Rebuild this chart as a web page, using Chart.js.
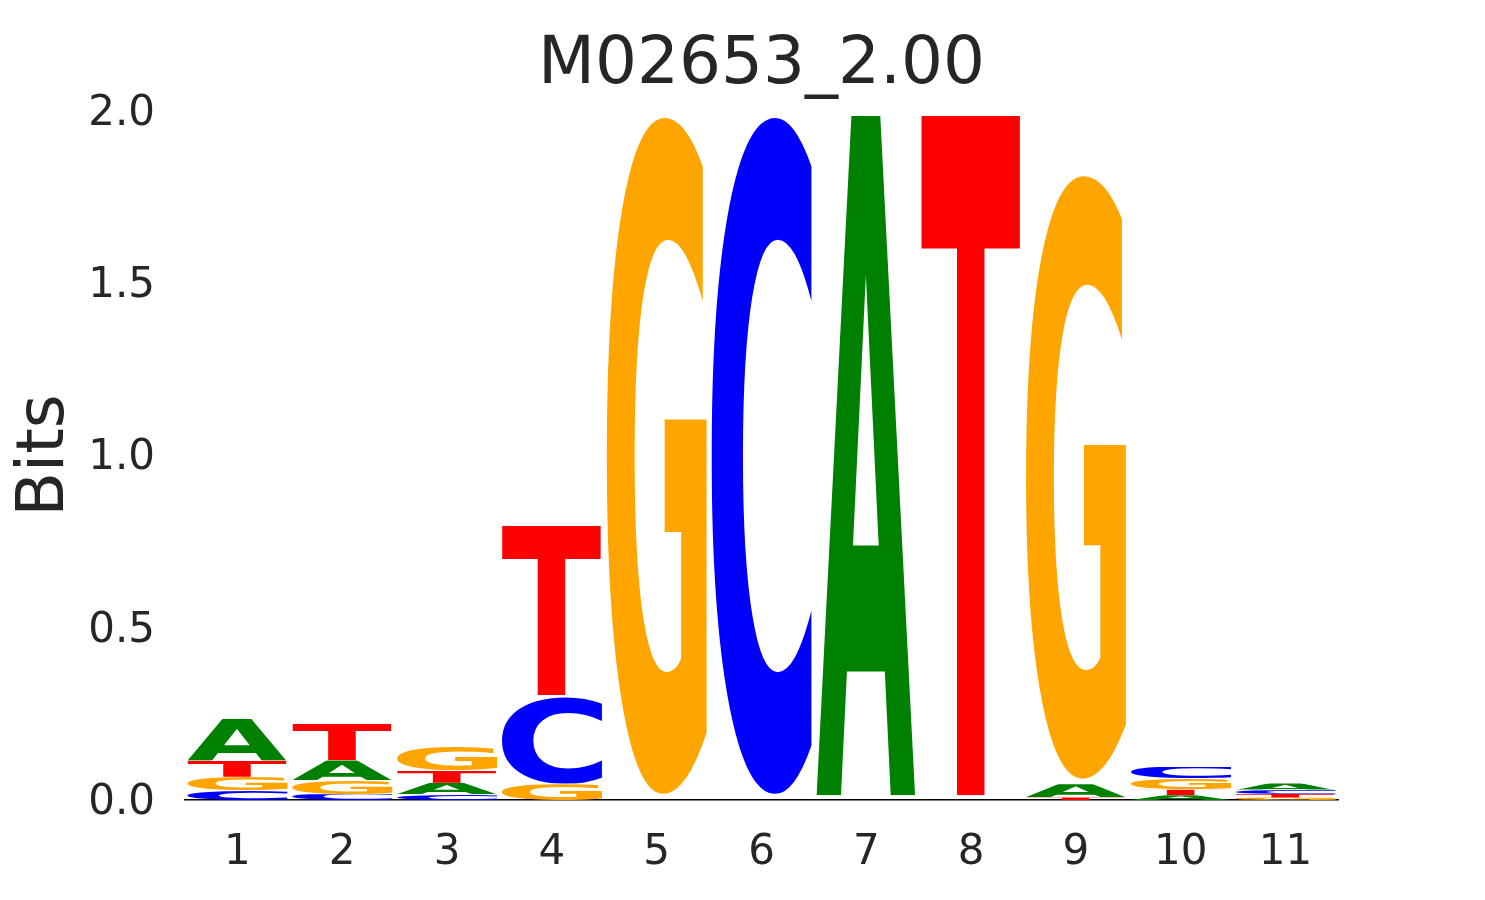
<!DOCTYPE html>
<html>
<head>
<meta charset="utf-8">
<script src="https://cdn.jsdelivr.net/npm/chart.js@4/dist/chart.umd.min.js"></script>
<style>
  html, body { margin: 0; padding: 0; background: #ffffff; }
  #wrap { width: 1485px; height: 900px; }
</style>
</head>
<body>
<div id="wrap"><canvas id="c" width="1485" height="900"></canvas></div>
<script>
// ---- data (information content, bits) ----
const positions = ['1', '2', '3', '4', '5', '6', '7', '8', '9', '10', '11'];
const bitsA = [0.122, 0.058, 0.034, 0.000, 0.000, 0.000, 2.000, 0.000, 0.039, 0.014, 0.018];
const bitsC = [0.027, 0.017, 0.016, 0.254, 0.000, 2.000, 0.000, 0.000, 0.000, 0.034, 0.012];
const bitsG = [0.040, 0.040, 0.070, 0.046, 2.000, 0.000, 0.000, 0.000, 1.783, 0.032, 0.007];
const bitsT = [0.046, 0.106, 0.035, 0.498, 0.000, 0.000, 0.000, 2.000, 0.007, 0.016, 0.011];
const yTicks = [0.0, 0.5, 1.0, 1.5, 2.0];
const titleText = 'M02653_2.00';
const yLabel = 'Bits';

const letterColors = { A: '#008000', C: '#0000ff', G: '#ffa500', T: '#ff0000' };
const FONT = '"DejaVu Sans", "Liberation Sans", sans-serif';
const TEXT = '#262626';

// Build stacked layers: in each column letters are ordered smallest (bottom) to largest (top)
const series = { A: bitsA, C: bitsC, G: bitsG, T: bitsT };
const letterOrder = ['A', 'C', 'G', 'T'];
const layers = [0, 1, 2, 3].map(() => ({ data: [], letters: [] }));
positions.forEach((p, i) => {
  const col = letterOrder.map(l => ({ l, v: series[l][i] }));
  col.sort((a, b) => a.v - b.v);
  col.forEach((e, k) => { layers[k].data.push(e.v); layers[k].letters.push(e.l); });
});

const datasets = layers.map((ly, k) => ({
  label: 'layer' + k,
  data: ly.data,
  letters: ly.letters,
  backgroundColor: 'rgba(0,0,0,0)',
  borderWidth: 0,
  barPercentage: 0.96,
  categoryPercentage: 1.0,
  stack: 'logo'
}));

// Draw each letter glyph stretched into its bar rectangle
const GLYPH_SIZE = 1000;
const logoPlugin = {
  id: 'logoLetters',
  afterDatasetsDraw(chart) {
    const ctx = chart.ctx;
    chart.data.datasets.forEach((ds, di) => {
      const meta = chart.getDatasetMeta(di);
      meta.data.forEach((bar, i) => {
        const letter = ds.letters[i];
        const top = Math.min(bar.y, bar.base);
        const bottom = Math.max(bar.y, bar.base);
        const hRect = bottom - top;
        if (hRect < 0.4) return;
        const vpadBottom = hRect * 0.007;
        const h = hRect - vpadBottom;
        const w = bar.width;
        const x0 = bar.x - w / 2;
        const y0 = top;
        ctx.save();
        ctx.font = 'bold ' + GLYPH_SIZE + 'px ' + FONT;
        ctx.textAlign = 'left';
        ctx.textBaseline = 'alphabetic';
        const m = ctx.measureText(letter);
        const gw = m.actualBoundingBoxLeft + m.actualBoundingBoxRight;
        const gh = m.actualBoundingBoxAscent + m.actualBoundingBoxDescent;
        ctx.beginPath();
        ctx.rect(x0, y0, w, h);
        ctx.clip();
        ctx.translate(x0, y0);
        ctx.scale(w / gw, h / gh);
        ctx.fillStyle = letterColors[letter];
        ctx.fillText(letter, m.actualBoundingBoxLeft, m.actualBoundingBoxAscent);
        ctx.restore();
      });
    });
  }
};

new Chart(document.getElementById('c'), {
  type: 'bar',
  data: { labels: positions, datasets },
  plugins: [logoPlugin],
  options: {
    responsive: false,
    animation: false,
    events: [],
    layout: { padding: { left: 0, right: 147, top: 0, bottom: 0 } },
    plugins: {
      legend: { display: false },
      tooltip: { enabled: false },
      title: {
        display: true,
        text: titleText,
        fullSize: false,
        color: TEXT,
        font: { family: FONT, size: 66, weight: 'normal', lineHeight: 1.2 },
        padding: { top: 26, bottom: 5.8 }
      }
    },
    scales: {
      x: {
        type: 'category',
        stacked: true,
        grid: { display: false, drawTicks: false },
        border: { display: true, color: '#000000', width: 1.5 },
        ticks: { color: TEXT, font: { family: FONT, size: 42 }, padding: 28, maxRotation: 0 },
        afterFit(scale) { scale.height = 100; }
      },
      y: {
        stacked: true,
        min: 0,
        max: 2,
        afterBuildTicks(scale) { scale.ticks = yTicks.map(v => ({ value: v })); },
        grid: { display: false, drawTicks: false },
        border: { display: false },
        ticks: {
          color: TEXT,
          font: { family: FONT, size: 42 },
          padding: 30,
          labelOffset: 3,
          callback: v => Number(v).toFixed(1)
        },
        title: {
          display: true,
          text: yLabel,
          color: TEXT,
          font: { family: FONT, size: 65, lineHeight: 1.2 },
          padding: { top: 7, bottom: 0 }
        },
        afterFit(scale) { scale.width = 185; }
      }
    }
  }
});
</script>
</body>
</html>
